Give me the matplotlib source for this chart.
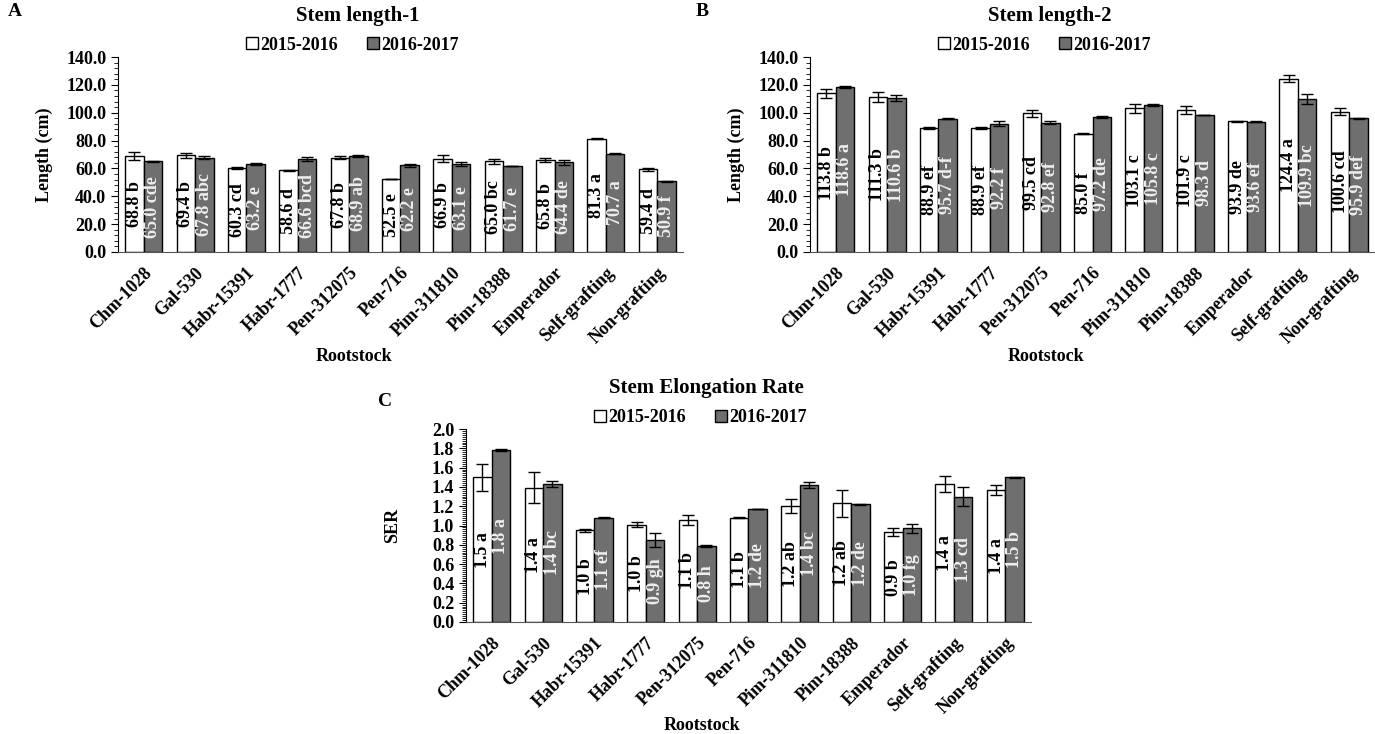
import matplotlib
matplotlib.use("Agg")
import matplotlib.pyplot as plt
from matplotlib.patches import Patch
from matplotlib.ticker import AutoMinorLocator, FormatStrFormatter
import numpy as np

plt.rcParams['font.family'] = ['Liberation Serif', 'DejaVu Serif']
plt.rcParams['font.weight'] = 'bold'

rootstocks = ["Chm-1028", "Gal-530", "Habr-15391", "Habr-1777", "Pen-312075", "Pen-716",
              "Pim-311810", "Pim-18388", "Emperador", "Self-grafting", "Non-grafting"]
seasons = ["2015-2016", "2016-2017"]

# Stem length-1
sl1_1516 = [68.8, 69.4, 60.3, 58.6, 67.8, 52.5, 66.9, 65.0, 65.8, 81.3, 59.4]
sl1_1617 = [65.0, 67.8, 63.2, 66.6, 68.9, 62.2, 63.1, 61.7, 64.4, 70.7, 50.9]
sl1_err_1516 = [3.0, 2.0, 1.0, 0.5, 1.0, 0.2, 2.5, 2.0, 1.5, 0.5, 1.0]
sl1_err_1617 = [0.4, 1.2, 0.5, 1.5, 0.6, 1.0, 1.2, 0.2, 2.0, 0.3, 0.4]
sl1_let_1516 = ["b", "b", "cd", "d", "b", "e", "b", "bc", "b", "a", "d"]
sl1_let_1617 = ["cde", "abc", "e", "bcd", "ab", "e", "e", "e", "de", "a", "f"]

# Stem length-2
sl2_1516 = [113.8, 111.3, 88.9, 88.9, 99.5, 85.0, 103.1, 101.9, 93.9, 124.4, 100.6]
sl2_1617 = [118.6, 110.6, 95.7, 92.2, 92.8, 97.2, 105.8, 98.3, 93.6, 109.9, 95.9]
sl2_err_1516 = [3.0, 3.5, 0.5, 0.5, 2.5, 0.2, 3.0, 3.0, 0.5, 2.5, 2.5]
sl2_err_1617 = [0.5, 2.0, 0.3, 1.5, 1.0, 0.8, 0.8, 0.2, 0.5, 3.5, 0.3]
sl2_let_1516 = ["b", "b", "ef", "ef", "cd", "f", "c", "c", "de", "a", "cd"]
sl2_let_1617 = ["a", "b", "d-f", "f", "ef", "de", "c", "d", "ef", "bc", "def"]

# Stem elongation rate
ser_1516 = [1.50, 1.39, 0.95, 1.01, 1.06, 1.08, 1.20, 1.23, 0.93, 1.43, 1.37]
ser_1617 = [1.78, 1.43, 1.08, 0.85, 0.79, 1.17, 1.42, 1.22, 0.97, 1.30, 1.50]
ser_err_1516 = [0.14, 0.16, 0.015, 0.03, 0.05, 0.003, 0.07, 0.14, 0.04, 0.08, 0.05]
ser_err_1617 = [0.01, 0.03, 0.005, 0.07, 0.01, 0.003, 0.03, 0.003, 0.05, 0.10, 0.003]
ser_lab_1516 = ["1.5 a", "1.4 a", "1.0 b", "1.0 b", "1.1 b", "1.1 b", "1.2 ab", "1.2 ab",
                "0.9 b", "1.4 a", "1.4 a"]
ser_lab_1617 = ["1.8 a", "1.4 bc", "1.1 ef", "0.9 gh", "0.8 h", "1.2 de", "1.4 bc", "1.2 de",
                "1.0 fg", "1.3 cd", "1.5 b"]

GRAY = "#6f6f6f"
W = 0.36


def draw_panel(ax, v1, v2, e1, e2, lab1, lab2, title, ylabel, ymax, ystep, nminor, fmt):
    x = np.arange(len(rootstocks))
    ax.bar(x - W / 2, v1, W, color="white", edgecolor="black", linewidth=1.0, zorder=2)
    ax.bar(x + W / 2, v2, W, color=GRAY, edgecolor="black", linewidth=1.0, zorder=2)
    ax.errorbar(x - W / 2, v1, yerr=e1, fmt="none", ecolor="black", elinewidth=1, capsize=4, capthick=1, zorder=3)
    ax.errorbar(x + W / 2, v2, yerr=e2, fmt="none", ecolor="black", elinewidth=1, capsize=4, capthick=1, zorder=3)
    for i in range(len(x)):
        ax.text(x[i] - W / 2, v1[i] / 2, lab1[i], rotation=90, ha="center", va="center",
                fontsize=13, fontweight="bold", color="black", zorder=4)
        ax.text(x[i] + W / 2, v2[i] / 2, lab2[i], rotation=90, ha="center", va="center",
                fontsize=13, fontweight="bold", color="#eeeeee", zorder=4)

    ax.set_xlim(-0.5, len(x) - 0.5)
    ax.set_ylim(0, ymax)
    ax.set_yticks(np.arange(0, ymax + ystep / 2, ystep))
    ax.yaxis.set_major_formatter(FormatStrFormatter(fmt))
    ax.yaxis.set_minor_locator(AutoMinorLocator(nminor))
    ax.tick_params(axis="y", which="major", direction="out", length=5, labelsize=13)
    ax.tick_params(axis="y", which="minor", direction="out", length=3)
    ax.set_xticks(x)
    ax.set_xticklabels(rootstocks, rotation=45, ha="right", rotation_mode="anchor", fontsize=13)
    ax.tick_params(axis="x", length=0, pad=9)
    for side in ["top", "right"]:
        ax.spines[side].set_visible(False)
    ax.spines["bottom"].set_color("#555555")

    ax.set_ylabel(ylabel, fontsize=13, fontweight="bold")
    ax.yaxis.set_label_coords(-0.115, 0.5)
    ax.set_xlabel("Rootstock", fontsize=13, fontweight="bold")
    ax.xaxis.set_label_coords(0.418, -0.49)
    ax.text(0.425, 1.21, title, transform=ax.transAxes, ha="center", va="center",
            fontsize=15, fontweight="bold")
    handles = [Patch(facecolor="white", edgecolor="black", label=seasons[0]),
               Patch(facecolor=GRAY, edgecolor="black", label=seasons[1])]
    ax.legend(handles=handles, loc="center", bbox_to_anchor=(0.415, 1.06), ncol=2, frameon=False,
              fontsize=13, handlelength=0.65, handleheight=0.65, handletextpad=0.15, columnspacing=1.6,
              borderaxespad=0)


fig = plt.figure(figsize=(13.75, 7.34), dpi=100)
axA = fig.add_axes([118 / 1375, 1 - 252 / 734, 565 / 1375, 195 / 734])
axB = fig.add_axes([810 / 1375, 1 - 252 / 734, 565 / 1375, 195 / 734])
axC = fig.add_axes([466 / 1375, 1 - 622 / 734, 565 / 1375, 193 / 734])

draw_panel(axA, sl1_1516, sl1_1617, sl1_err_1516, sl1_err_1617,
           [f"{v:.1f} {l}" for v, l in zip(sl1_1516, sl1_let_1516)],
           [f"{v:.1f} {l}" for v, l in zip(sl1_1617, sl1_let_1617)],
           "Stem length-1", "Length (cm)", 140, 20, 5, "%.1f")
draw_panel(axB, sl2_1516, sl2_1617, sl2_err_1516, sl2_err_1617,
           [f"{v:.1f} {l}" for v, l in zip(sl2_1516, sl2_let_1516)],
           [f"{v:.1f} {l}" for v, l in zip(sl2_1617, sl2_let_1617)],
           "Stem length-2", "Length (cm)", 140, 20, 5, "%.1f")
draw_panel(axC, ser_1516, ser_1617, ser_err_1516, ser_err_1617, ser_lab_1516, ser_lab_1617,
           "Stem Elongation Rate", "SER", 2.0, 0.2, 10, "%.1f")

fig.text(8 / 1375, 1 - 12 / 734, "A", fontsize=14, fontweight="bold", va="center")
fig.text(696 / 1375, 1 - 12 / 734, "B", fontsize=14, fontweight="bold", va="center")
fig.text(378 / 1375, 1 - 402 / 734, "C", fontsize=14, fontweight="bold", va="center")

fig.savefig("out.png", dpi=100)
